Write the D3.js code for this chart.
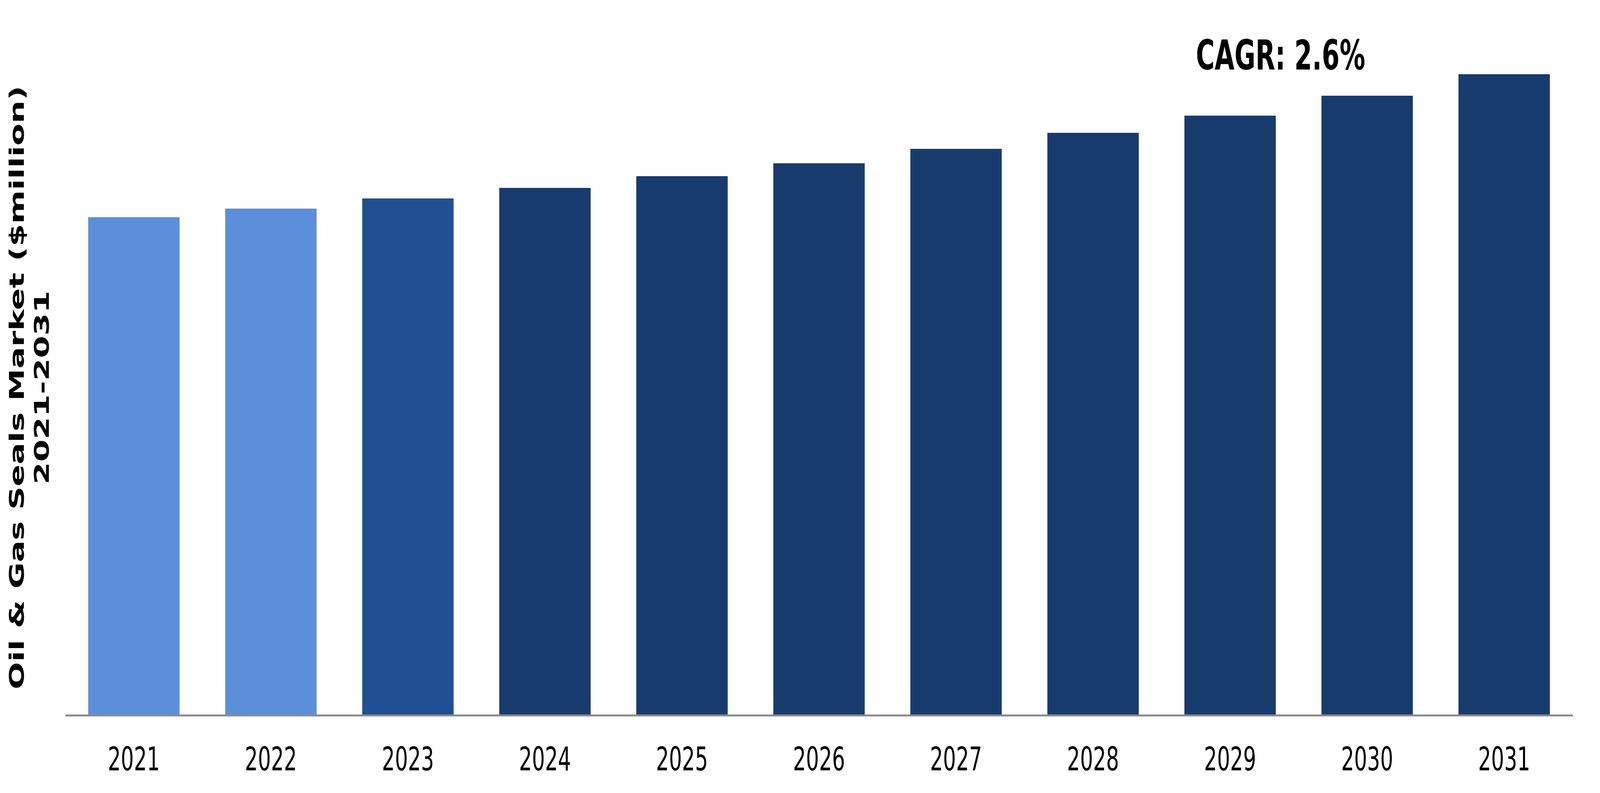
<!DOCTYPE html>
<html>
<head>
<meta charset="utf-8">
<script src="https://cdn.jsdelivr.net/npm/d3@7"></script>
<style>
  html, body { margin: 0; padding: 0; background: #fff; overflow: hidden; }
  svg { display: block; width: 100vw; height: 100vh; }
</style>
</head>
<body>
<svg></svg>
<script>
// chart data ($million, estimated)
let years = ["2021", "2022", "2023", "2024", "2025", "2026", "2027", "2028", "2029", "2030", "2031"];
let marketValues = [1275, 1297, 1323, 1350, 1380, 1413, 1450, 1491, 1535, 1586, 1641];
let barColors = ["#5B8FDB", "#5B8FDB", "#1F4F92", "#183B6E", "#183B6E", "#183B6E",
  "#183B6E", "#183B6E", "#183B6E", "#183B6E", "#183B6E"];
let yLabelLines = ["Oil & Gas Seals Market ($million)", "2021-2031"];
let cagrText = "CAGR: 2.6%";

// drawing space of the reference; the window may be narrower, so it is scaled to fit
let width = 6564;
let height = 2030;
let left = 268;
let right = 6452;
let baseY = 1831;

let svg = d3
  .select("svg")
  .attr("viewBox", `0 0 ${width} ${height}`)
  .attr("preserveAspectRatio", "none");

let xScale = d3
  .scaleBand()
  .domain(years)
  .range([left, right])
  .paddingInner(0.333)
  .paddingOuter(0.1667);

let yScale = d3.scaleLinear().domain([0, 1700]).range([baseY, baseY - 1700]);

// bars
svg
  .selectAll("rect.bar")
  .data(marketValues)
  .enter()
  .append("rect")
  .attr("class", "bar")
  .attr("x", (d, i) => xScale(years[i]))
  .attr("y", (d) => yScale(d))
  .attr("width", xScale.bandwidth())
  .attr("height", (d) => baseY - yScale(d))
  .attr("fill", (d, i) => barColors[i]);

// x axis
let xAxis = d3.axisBottom(xScale).tickSize(0).tickPadding(81);
let gx = svg
  .append("g")
  .attr("transform", `translate(0, ${baseY})`)
  .call(xAxis);
gx.select(".domain").attr("stroke", "#8c8c8c").attr("stroke-width", 5);
gx.selectAll("text")
  .attr("font-family", "DejaVu Sans, Verdana, sans-serif")
  .attr("font-size", 84)
  .attr("fill", "#000");

// y axis title (rotated, two lines)
let yTitle = svg
  .append("text")
  .attr("transform", "translate(98, 992) rotate(-90)")
  .attr("text-anchor", "middle")
  .attr("font-family", "DejaVu Sans, Verdana, sans-serif")
  .attr("font-weight", "bold")
  .attr("font-size", 83)
  .attr("fill", "#000");
yTitle
  .selectAll("tspan")
  .data(yLabelLines)
  .enter()
  .append("tspan")
  .attr("x", 0)
  .attr("dy", (d, i) => (i === 0 ? 0 : 102))
  .text((d) => d);

// CAGR note
svg
  .append("text")
  .attr("x", 4906)
  .attr("y", 178)
  .attr("font-family", "DejaVu Sans, Verdana, sans-serif")
  .attr("font-weight", "bold")
  .attr("font-size", 105)
  .attr("fill", "#000")
  .text(cagrText);
</script>
</body>
</html>
